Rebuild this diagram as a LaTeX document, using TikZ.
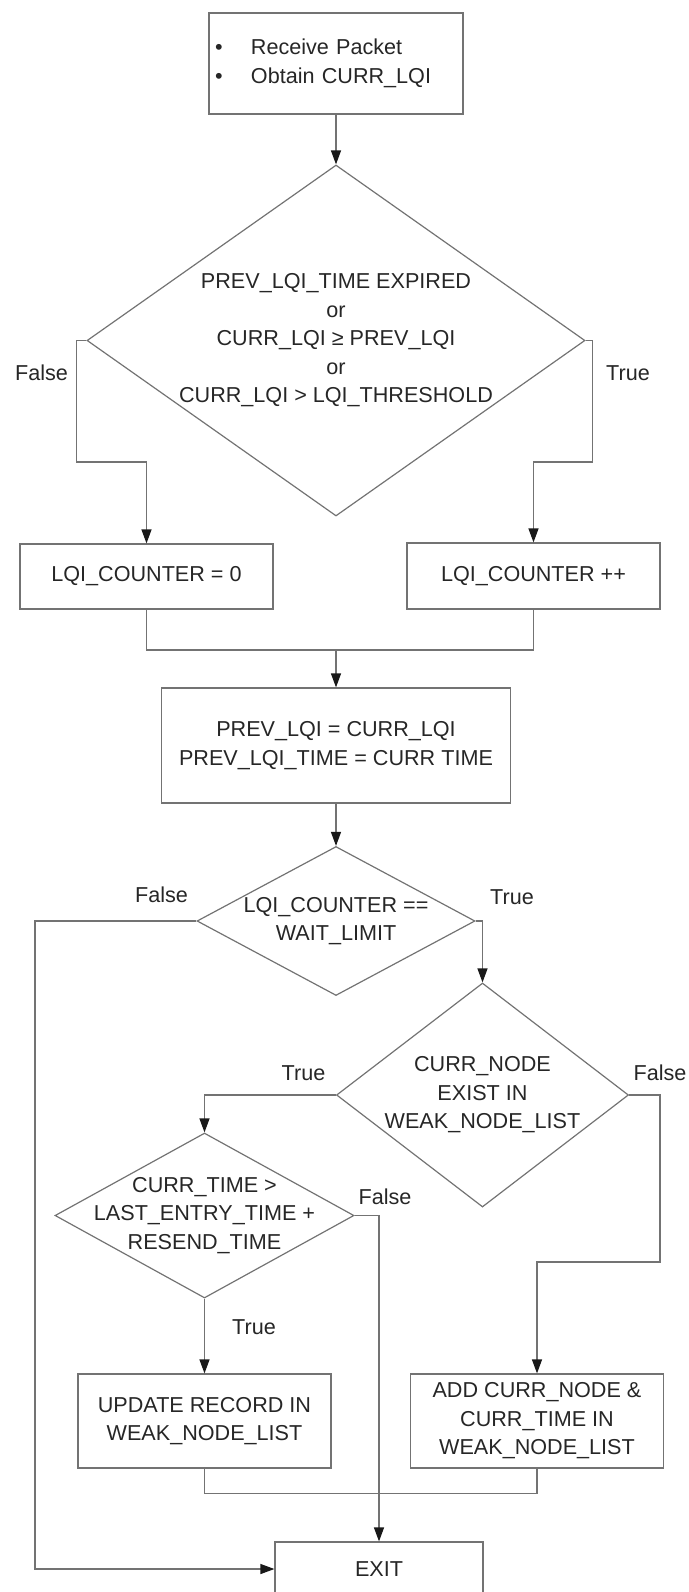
\documentclass[tikz,border=0pt]{standalone}
\usepackage{fontspec}
\setmainfont{Liberation Sans}
\usetikzlibrary{shapes.geometric,arrows.meta}

\begin{document}
\begin{tikzpicture}[x=1pt, y=-1pt, line width=1.2pt,
    font=\fontsize{21.6}{28.5}\selectfont, text=black!85,
    box/.style={draw=black!55, rectangle, inner sep=0pt, align=center},
    decision/.style={draw=black!55, diamond, inner sep=0pt},
    flow/.style={draw=black!55, -{Triangle[length=14pt,width=10pt,color=black!90]}},
    line/.style={draw=black!55}]
    \useasboundingbox (0,0) rectangle (688,1592);
    % Receive
    \node[box, minimum width=254, minimum height=101, text width=242, align=left] (recv) at (336,63.5)
        {\makebox[36pt][l]{\textbullet}Receive Packet\\\makebox[36pt][l]{\textbullet}Obtain CURR\_LQI};
    % First test
    \node[decision, minimum width=498, minimum height=351,
        label={[align=center]center:PREV\_LQI\_TIME EXPIRED\\or\\CURR\_LQI ≥ PREV\_LQI\\or\\CURR\_LQI > LQI\_THRESHOLD}]
        (test1) at (336,340.5) {};
    % Counter
    \node[box, minimum width=253, minimum height=65] (reset) at (146.5,576.5) {LQI\_COUNTER = 0};
    \node[box, minimum width=253, minimum height=66] (incr) at (533.5,576) {LQI\_COUNTER ++};
    \node[box, minimum width=349, minimum height=115] (update) at (336,745.5)
        {PREV\_LQI = CURR\_LQI\\PREV\_LQI\_TIME = CURR TIME};
    % Wait limit
    \node[decision, minimum width=278, minimum height=149,
        label={[align=center]center:LQI\_COUNTER ==\\WAIT\_LIMIT}] (test2) at (336,921) {};
    \node[decision, minimum width=292, minimum height=224,
        label={[align=center]center:CURR\_NODE\\EXIST IN\\WEAK\_NODE\_LIST}] (test3) at (482.5,1095) {};
    \node[decision, minimum width=299, minimum height=165,
        label={[align=center]center:CURR\_TIME >\\LAST\_ENTRY\_TIME +\\RESEND\_TIME}] (test4) at (204.5,1215.5) {};
    % Weak node list
    \node[box, minimum width=253, minimum height=94] (record) at (204.5,1421)
        {UPDATE RECORD IN\\WEAK\_NODE\_LIST};
    \node[box, minimum width=253, minimum height=94] (add) at (537,1421)
        {ADD CURR\_NODE \&\\CURR\_TIME IN\\WEAK\_NODE\_LIST};
    \node[box, minimum width=208, minimum height=54] (exit) at (379,1569) {EXIT};
    % Branch labels
    \node (false1) at (41.5,373) {False};
    \node (true1) at (628,373) {True};
    \node (false2) at (161.5,895) {False};
    \node (true2) at (512,897) {True};
    \node (true3) at (303.5,1073) {True};
    \node (false3) at (660,1073) {False};
    \node (false4) at (385,1197) {False};
    \node (true4) at (254,1327) {True};
    % Connectors
    \draw[flow] (recv.south) -- (test1.north);
    \draw[flow] (test1.west) -- ++(-10,0) |- (146.5,462) -- (reset.north);
    \draw[flow] (test1.east) -- ++(7,0) |- (533.5,462) -- (incr.north);
    \coordinate (join1) at (336,650);
    \draw[line] (reset.south) |- (join1) -| (incr.south);
    \draw[flow] (join1) -- (update.north);
    \draw[flow] (update.south) -- (test2.north);
    \draw[flow] (test2.west) -- (35,921) |- (exit.west);
    \draw[flow] (test2.east) -| (test3.north);
    \draw[flow] (test3.west) -| (test4.north);
    \draw[flow] (test3.east) -| (660,1262) -| (add.north);
    \draw[flow] (test4.east) -| (exit.north);
    \draw[flow] (test4.south) -- (record.north);
    \draw[line] (record.south) -- ++(0,25) -| (add.south);
\end{tikzpicture}
\end{document}
